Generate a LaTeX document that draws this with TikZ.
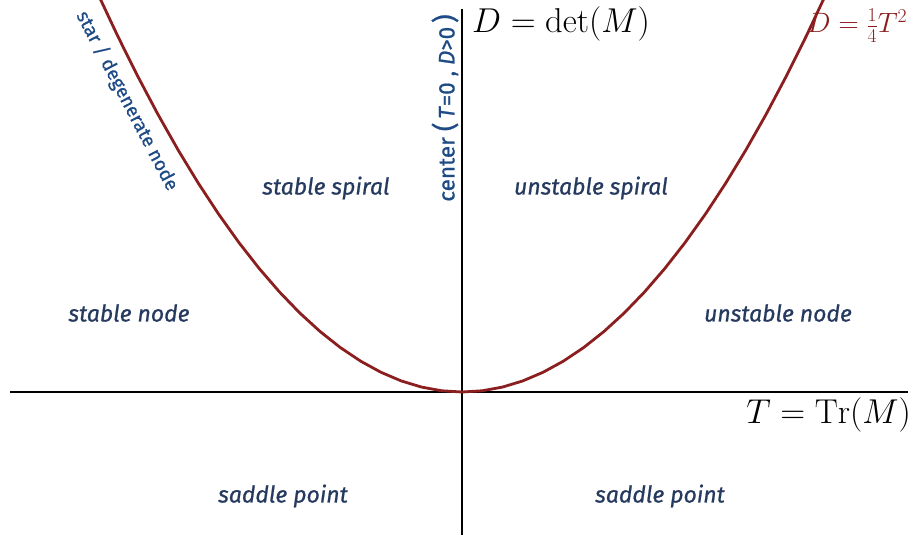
\RequirePackage{fix-cm}
\documentclass[tikz,border=0pt]{standalone}
\usepackage{fontspec}
\newfontfamily\lblfont{Fira Sans}[FakeBold=0.8]
\definecolor{navy}{HTML}{253A5E}
\definecolor{midblue}{HTML}{1E4B85}
\definecolor{curvered}{HTML}{8B1E1E}
\newcommand{\bigparen}[1]{{\fontsize{27}{27}\selectfont #1}}
\begin{document}
\begin{tikzpicture}[x=1pt,y=-1pt,
  region/.style={font=\lblfont\itshape\fontsize{23}{26}\selectfont, text=navy, inner sep=0pt},
  border/.style={font=\lblfont\fontsize{19}{22}\selectfont, text=midblue, inner sep=0pt},
  mathlbl/.style={font=\fontsize{34.5}{40}\selectfont, inner sep=0pt},
  axis/.style={line width=2.4pt, black},
  curve/.style={line width=2.8pt, curvered}]
\useasboundingbox (0,0) rectangle (917,535);
\coordinate (xl) at (10,392);
\coordinate (xr) at (908,392);
\coordinate (yt) at (462,9);
\coordinate (yb) at (462,535);
\draw[axis] (xl) -- (xr);
\draw[axis] (yt) -- (yb);
\begin{scope}
\clip (0,0) rectangle (917,535);
\draw[curve] plot[domain=-3.65:3.65, samples=37] ({462+100*\x}, {392-30.03*\x*\x});
\end{scope}
\node[mathlbl, anchor=base west] (dlab) at (472,33) {$D=\det(M)$};
\node[mathlbl, anchor=base west, text=curvered, font=\fontsize{28}{32}\selectfont] (plab) at (807,33) {$D=\frac{1}{4}T^2$};
\node[mathlbl, anchor=base east] (tlab) at (911,423) {$T=\mathrm{Tr}(M)$};
\node[border, rotate=90, font=\lblfont\fontsize{22.5}{24}\selectfont] (center) at (445,108) {center \bigparen{(}\,\textit{T}=0 , \textit{D}>0\,\bigparen{)}};
\node[border, rotate=-62.5] (star) at (127,101) {star / degenerate node};
\node[region] (ss) at (326,188) {stable spiral};
\node[region] (us) at (591,188) {unstable spiral};
\node[region] (sn) at (129,313) {stable node};
\node[region] (un) at (778,313) {unstable node};
\node[region] (sp1) at (283,496) {saddle point};
\node[region] (sp2) at (660,496) {saddle point};
\end{tikzpicture}
\end{document}
